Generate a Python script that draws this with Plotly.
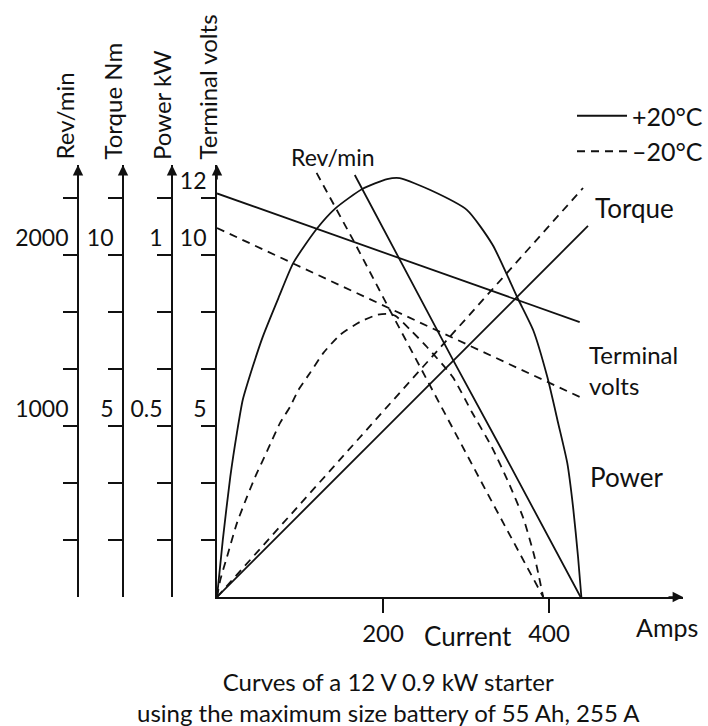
import plotly.graph_objects as go

# ---------------- data ----------------
# +20 °C curves
volts_warm_A = [0, 437]
volts_warm_V = [11.80, 8.04]

torque_warm_A = [0, 447]
torque_warm_Nm = [0, 10.85]

rev_warm_A = [166, 218, 284, 341, 390, 438]
rev_warm_rpm = [2468, 1990, 1390, 880, 440, 0]

power_warm_A = [0, 7, 16, 24, 31, 43, 55, 74, 92, 120, 143, 175, 205, 220,
                257, 301, 332, 362, 381, 398, 411, 422, 429, 435, 439]
power_warm_kW = [0, 0.167, 0.351, 0.480, 0.576, 0.673, 0.760, 0.874, 0.977,
                 1.076, 1.137, 1.193, 1.222, 1.225, 1.190, 1.132, 1.030,
                 0.875, 0.780, 0.643, 0.509, 0.392, 0.263, 0.117, 0]

# -20 °C curves
volts_cold_A = [0, 437]
volts_cold_V = [10.79, 5.85]

torque_cold_A = [0, 441]
torque_cold_Nm = [0, 11.96]

rev_cold_A = [120, 166, 208, 272, 332, 393]
rev_cold_rpm = [2480, 2070, 1680, 1095, 550, 0]

power_cold_A = [0, 4, 12, 24, 36, 46, 61, 76, 88, 98, 112, 128, 148, 172,
                193, 205, 215, 233, 253, 284, 307, 331, 351, 369, 382, 387, 393]
power_cold_kW = [0, 0.05, 0.117, 0.216, 0.292, 0.351, 0.43, 0.509, 0.556,
                 0.605, 0.655, 0.713, 0.766, 0.804, 0.825, 0.828, 0.822,
                 0.781, 0.731, 0.643, 0.541, 0.439, 0.336, 0.231, 0.123,
                 0.070, 0]

# axis ticks (7 equal divisions on every vertical scale)
x_ticks = [200, 400]
x_ticktext = ["200", "400"]
volts_ticks = [5 / 3 * k for k in range(1, 8)]
volts_text = ["", "", "5", "", "", "10", "12"]
power_ticks = [1 / 6 * k for k in range(1, 8)]
power_text = ["", "", "0.5", "", "", "1", ""]
torque_ticks = [5 / 3 * k for k in range(1, 8)]
torque_text = ["", "", "5", "", "", "10", ""]
rev_ticks = [1000 / 3 * k for k in range(1, 8)]
rev_text = ["", "", "1000", "", "", "2000", ""]

# ---------------- layout geometry ----------------
W, H = 708, 726
ML, MR, MT, MB = 0, 25, 165, 129
PW = W - ML - MR          # 683
PH = H - MT - MB          # 432
X0 = 217                  # pixel of current axis origin


def px(x):
    return (x - ML) / PW


def py(y):
    return (H - MB - y) / PH


FONT = "Lato"
BLACK = "#111111"
LW = 1.8
DASH = "8px,6px"

fig = go.Figure()


def add(xs, ys, axis, dash, name=None, show=False, shape="linear"):
    fig.add_trace(go.Scatter(
        x=xs, y=ys, yaxis=axis, mode="lines",
        line=dict(color=BLACK, width=LW, dash=dash, shape=shape,
                  smoothing=0.6),
        name=name, showlegend=show, hoverinfo="skip"))


add(torque_warm_A, torque_warm_Nm, "y3", "solid", "+20°C", True)
add(torque_cold_A, torque_cold_Nm, "y3", DASH, "\u201320°C", True)
add(volts_warm_A, volts_warm_V, "y", "solid")
add(volts_cold_A, volts_cold_V, "y", DASH)
add(rev_warm_A, rev_warm_rpm, "y4", "solid")
add(rev_cold_A, rev_cold_rpm, "y4", DASH)
add(power_warm_A, power_warm_kW, "y2", "solid", shape="spline")
add(power_cold_A, power_cold_kW, "y2", DASH, shape="spline")

yax_common = dict(
    showline=True, linecolor=BLACK, linewidth=LW, ticks="outside",
    ticklen=14, tickwidth=1.5, tickcolor=BLACK, showgrid=False,
    zeroline=False, tickfont=dict(family=FONT, size=23, color=BLACK),
    ticklabelposition="outside top", ticklabelstandoff=4, fixedrange=True,
)

pos_power = px(172)
pos_torque = px(123)
pos_rev = px(78)

fig.update_layout(
    width=W, height=H,
    margin=dict(l=ML, r=MR, t=MT, b=MB, pad=0),
    paper_bgcolor="white", plot_bgcolor="white",
    font=dict(family=FONT, color=BLACK, size=24),
    xaxis=dict(domain=[px(X0), 1], range=[0, (W - MR - X0) / 0.83],
               showline=True, linecolor=BLACK, linewidth=LW,
               ticks="outside", ticklen=14, tickwidth=1.5, tickcolor=BLACK,
               tickvals=x_ticks, ticktext=x_ticktext, showgrid=False,
               zeroline=False,
               tickfont=dict(family=FONT, size=24, color=BLACK)),
    yaxis=dict(range=[0, 12.632], anchor="x", tickvals=volts_ticks,
               ticktext=volts_text, **yax_common),
    yaxis2=dict(range=[0, 1.2632], anchor="free", overlaying="y",
                side="left", position=pos_power, tickvals=power_ticks,
                ticktext=power_text, **yax_common),
    yaxis3=dict(range=[0, 12.632], anchor="free", overlaying="y",
                side="left", position=pos_torque, tickvals=torque_ticks,
                ticktext=torque_text, **yax_common),
    yaxis4=dict(range=[0, 2526.3], anchor="free", overlaying="y",
                side="left", position=pos_rev, tickvals=rev_ticks,
                ticktext=rev_text, **yax_common),
    legend=dict(x=px(572), y=py(93), xanchor="left", yanchor="top",
                font=dict(family=FONT, size=25, color=BLACK),
                bgcolor="rgba(0,0,0,0)", itemwidth=50,
                tracegroupgap=2),
    showlegend=True,
)

ann = []
# rotated axis titles
for text, xc in [("Rev/min", 64), ("Torque Nm", 112), ("Power kW", 161),
                 ("Terminal volts", 207)]:
    ann.append(dict(text=text, x=px(xc), y=py(162), xref="paper",
                    yref="paper", showarrow=False, textangle=-90,
                    xanchor="center", yanchor="bottom",
                    font=dict(family=FONT, size=24, color=BLACK)))

# arrowheads on the vertical axes
for xa in [pos_rev, pos_torque, pos_power, px(X0)]:
    ann.append(dict(text="", x=xa, y=1, xref="paper", yref="paper",
                    showarrow=True, ax=0, ay=16, arrowhead=2,
                    arrowsize=1.3, arrowwidth=1.6, arrowcolor=BLACK))
# arrowhead on the current axis
ann.append(dict(text="", x=1, y=0, xref="paper", yref="paper",
                showarrow=True, ax=-16, ay=0, arrowhead=2, arrowsize=1.3,
                arrowwidth=1.6, arrowcolor=BLACK))

# curve labels
labels = [
    ("Rev/min", 333, 157, "center", 23),
    ("Torque", 593, 208, "left", 26),
    ("Terminal<br>volts", 587, 370, "left", 24),
    ("Power", 588, 477, "left", 26),
    ("Current", 468, 636, "center", 26),
    ("Amps", 667, 627, "center", 25),
]
for text, x, y, xa, fs in labels:
    ann.append(dict(text=text, x=px(x), y=py(y), xref="paper", yref="paper",
                    showarrow=False, xanchor=xa, yanchor="middle",
                    align="left",
                    font=dict(family=FONT, size=fs, color=BLACK)))

# caption
ann.append(dict(text="Curves of a 12 V 0.9 kW starter<br>"
                     "using the maximum size battery of 55 Ah, 255 A",
                x=px(388), y=py(697), xref="paper", yref="paper",
                showarrow=False, xanchor="center", yanchor="middle",
                align="center",
                font=dict(family=FONT, size=24, color=BLACK)))

fig.update_layout(annotations=ann)

fig.write_html("out.html")
